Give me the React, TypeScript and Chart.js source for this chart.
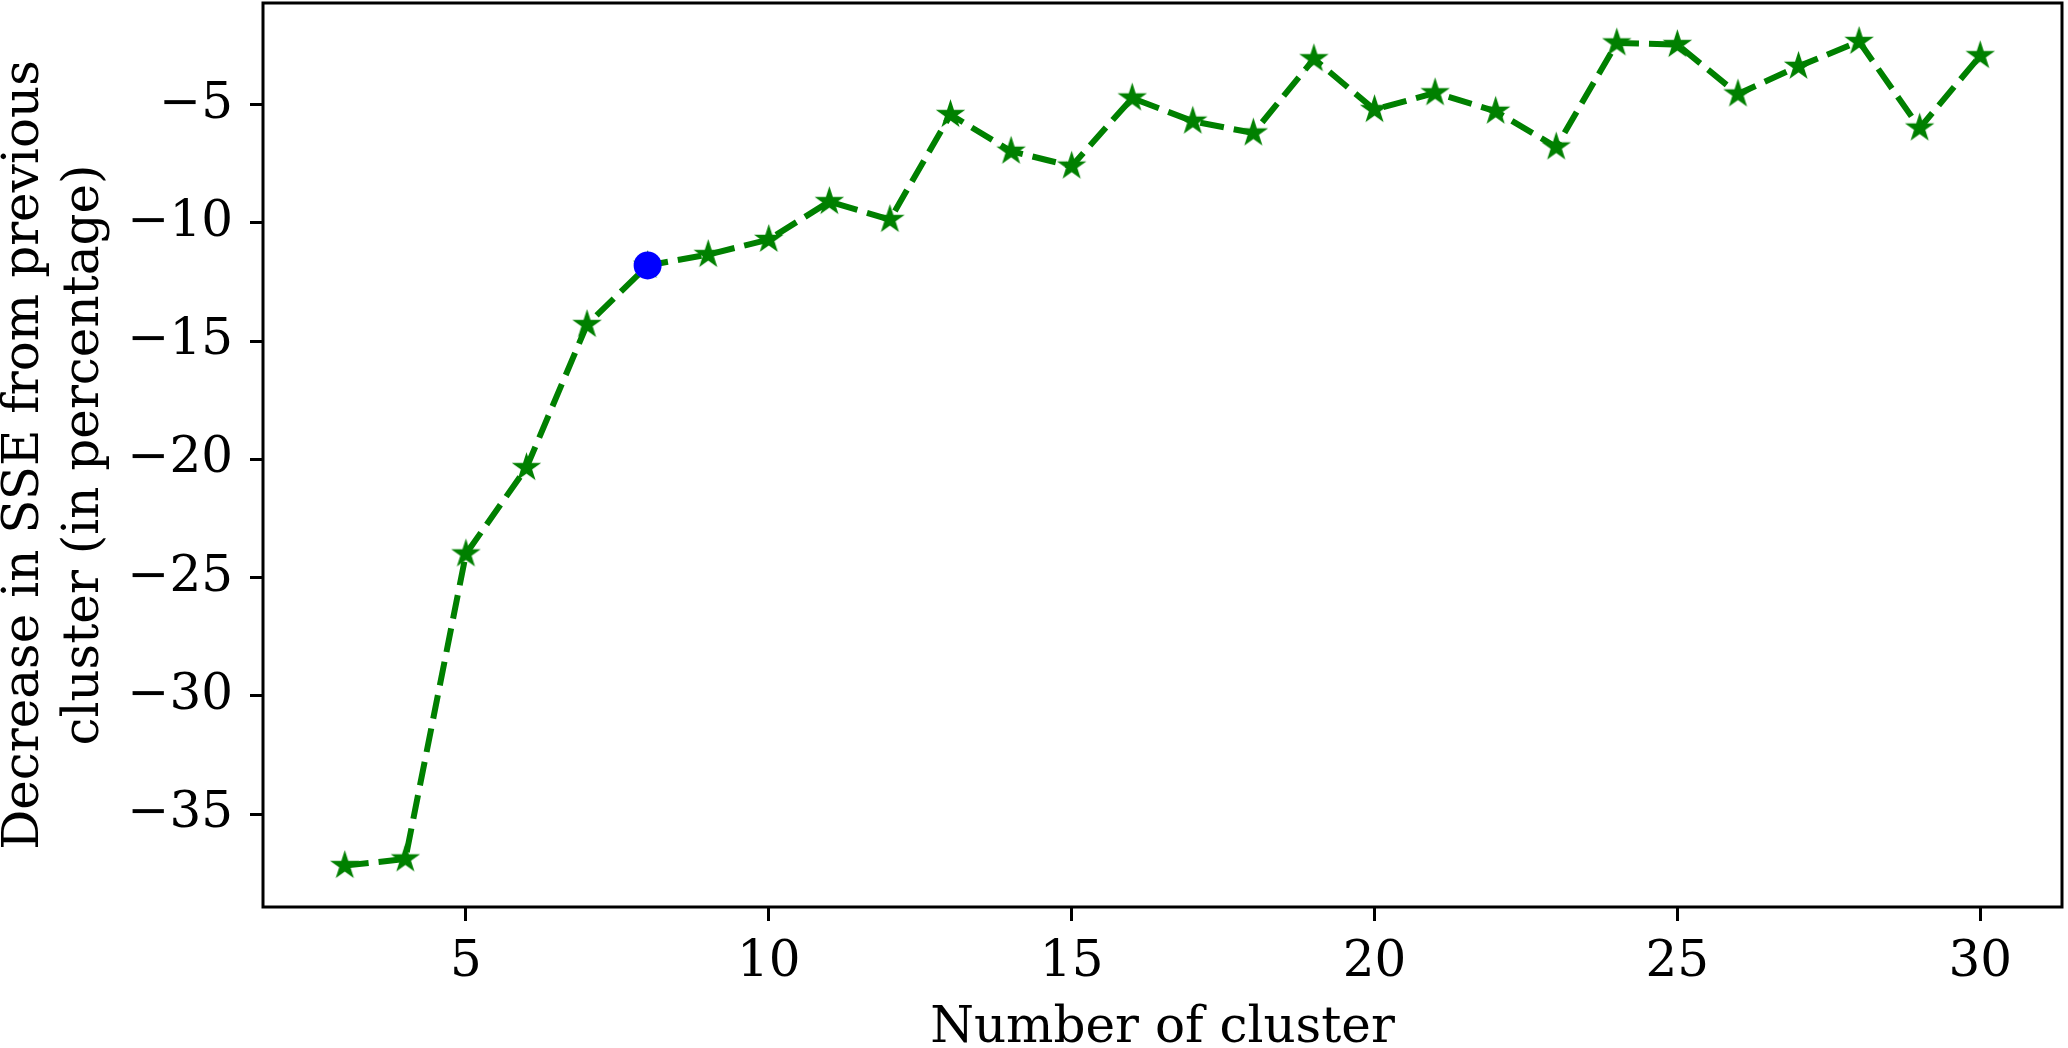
import React, { useEffect, useRef } from 'react';
import { Chart, registerables } from 'chart.js';

Chart.register(...registerables);

// ---- data ----
const clusterCounts = [3, 4, 5, 6, 7, 8, 9, 10, 11, 12, 13, 14, 15, 16, 17, 18, 19, 20, 21, 22, 23, 24, 25, 26, 27, 28, 29, 30];
const sseDecreasePct = [
  -37.18, -36.9, -24.0, -20.35, -14.3, -11.8, -11.34, -10.7, -9.1, -9.86,
  -5.42, -6.97, -7.6, -4.72, -5.7, -6.2, -3.06, -5.21, -4.5, -5.28,
  -6.79, -2.39, -2.46, -4.55, -3.38, -2.33, -5.99, -2.93,
];
const highlightCluster = 8;
const xTickValues = [5, 10, 15, 20, 25, 30];
const yTickValues = [-35, -30, -25, -20, -15, -10, -5];
const xAxisTitle = 'Number of cluster';
const yAxisTitle = ['Decrease in SSE from previous', 'cluster (in percentage)'];

const GREEN = '#008000';
const BLUE = '#0000ff';
const FONT = "'DejaVu Serif', serif";

function makeStar(color: string, R: number): HTMLCanvasElement {
  const size = Math.ceil(2 * R) + 4;
  const c = document.createElement('canvas');
  c.width = size;
  c.height = size;
  const ctx = c.getContext('2d')!;
  const cx = size / 2;
  const cy = size / 2;
  const r = R * 0.381966;
  ctx.beginPath();
  for (let i = 0; i < 10; i++) {
    const ang = -Math.PI / 2 + (i * Math.PI) / 5;
    const rad = i % 2 === 0 ? R : r;
    const px = cx + rad * Math.cos(ang);
    const py = cy + rad * Math.sin(ang);
    if (i === 0) ctx.moveTo(px, py);
    else ctx.lineTo(px, py);
  }
  ctx.closePath();
  ctx.fillStyle = color;
  ctx.fill();
  return c;
}

const fmt = (v: number) => (v < 0 ? '\u2212' + Math.abs(v) : String(v));

export default function App() {
  const ref = useRef<HTMLCanvasElement | null>(null);

  useEffect(() => {
    document.body.style.margin = '0';
    const canvas = ref.current!;
    const star = makeStar(GREEN, 15.5);

    const mainPoints = clusterCounts.map((k, i) => ({ x: k, y: sseDecreasePct[i] }));
    const hi = clusterCounts.indexOf(highlightCluster);
    const hiPoints = [{ x: highlightCluster, y: sseDecreasePct[hi] }];

    const framePlugin = {
      id: 'frame',
      afterDatasetsDraw(chart: any) {
        const { ctx, chartArea } = chart;
        const { left, top, right, bottom } = chartArea;
        ctx.save();
        ctx.strokeStyle = '#000';
        ctx.lineWidth = 3;
        ctx.strokeRect(left, top, right - left, bottom - top);
        ctx.restore();
      },
    };

    const chart = new Chart(canvas, {
      type: 'line',
      data: {
        datasets: [
          {
            label: 'highlight',
            data: hiPoints,
            showLine: false,
            pointStyle: 'circle',
            pointRadius: 14,
            pointBackgroundColor: BLUE,
            pointBorderWidth: 0,
            borderColor: BLUE,
            order: 0,
          },
          {
            label: 'sse',
            data: mainPoints,
            borderColor: GREEN,
            borderWidth: 6,
            borderDash: [24, 10],
            tension: 0,
            pointStyle: star as any,
            pointRadius: 15,
            pointBackgroundColor: GREEN,
            order: 1,
          },
        ],
      },
      options: {
        responsive: false,
        animation: false,
        devicePixelRatio: 1,
        layout: { autoPadding: false, padding: { left: 0, right: 6, top: 3, bottom: 0 } },
        plugins: {
          legend: { display: false },
          tooltip: { enabled: false },
        },
        scales: {
          x: {
            type: 'linear',
            min: 1.65,
            max: 31.35,
            afterBuildTicks: (scale: any) => {
              scale.ticks = xTickValues.map((v) => ({ value: v }));
            },
            afterFit: (scale: any) => {
              scale.height = 141;
              scale.paddingLeft = 0;
              scale.paddingRight = 0;
              scale.paddingTop = 0;
              scale.paddingBottom = 0;
            },
            border: { display: false },
            grid: {
              drawOnChartArea: false,
              drawTicks: true,
              tickLength: 14,
              tickWidth: 3,
              tickColor: '#000',
            },
            ticks: {
              color: '#000',
              font: { family: FONT, size: 50 },
              padding: 12,
              maxRotation: 0,
              autoSkip: false,
              callback: (v: any) => fmt(Number(v)),
            },
            title: {
              display: true,
              text: xAxisTitle,
              color: '#000',
              font: { family: FONT, size: 50, lineHeight: 1.2 },
              padding: { top: 0, bottom: -11 },
            },
          },
          y: {
            type: 'linear',
            min: -38.93,
            max: -0.7,
            afterBuildTicks: (scale: any) => {
              scale.ticks = yTickValues.map((v) => ({ value: v }));
            },
            afterFit: (scale: any) => {
              scale.width = 263;
              scale.paddingLeft = 0;
              scale.paddingRight = 0;
              scale.paddingTop = 0;
              scale.paddingBottom = 0;
            },
            border: { display: false },
            grid: {
              drawOnChartArea: false,
              drawTicks: true,
              tickLength: 13,
              tickWidth: 3,
              tickColor: '#000',
            },
            ticks: {
              color: '#000',
              font: { family: FONT, size: 50 },
              padding: 17,
              autoSkip: false,
              callback: (v: any) => fmt(Number(v)),
            },
            title: {
              display: true,
              text: yAxisTitle,
              color: '#000',
              font: { family: FONT, size: 50, lineHeight: 1.2 },
              padding: { top: -5, bottom: 0 },
            },
          },
        },
      },
      plugins: [framePlugin],
    } as any);

    return () => chart.destroy();
  }, []);

  return (
    <div style={{ position: 'fixed', left: 0, top: 0, width: 2068, height: 1048, background: '#fff' }}>
      <canvas ref={ref} width={2068} height={1048} style={{ width: 2068, height: 1048, display: 'block' }} />
    </div>
  );
}
